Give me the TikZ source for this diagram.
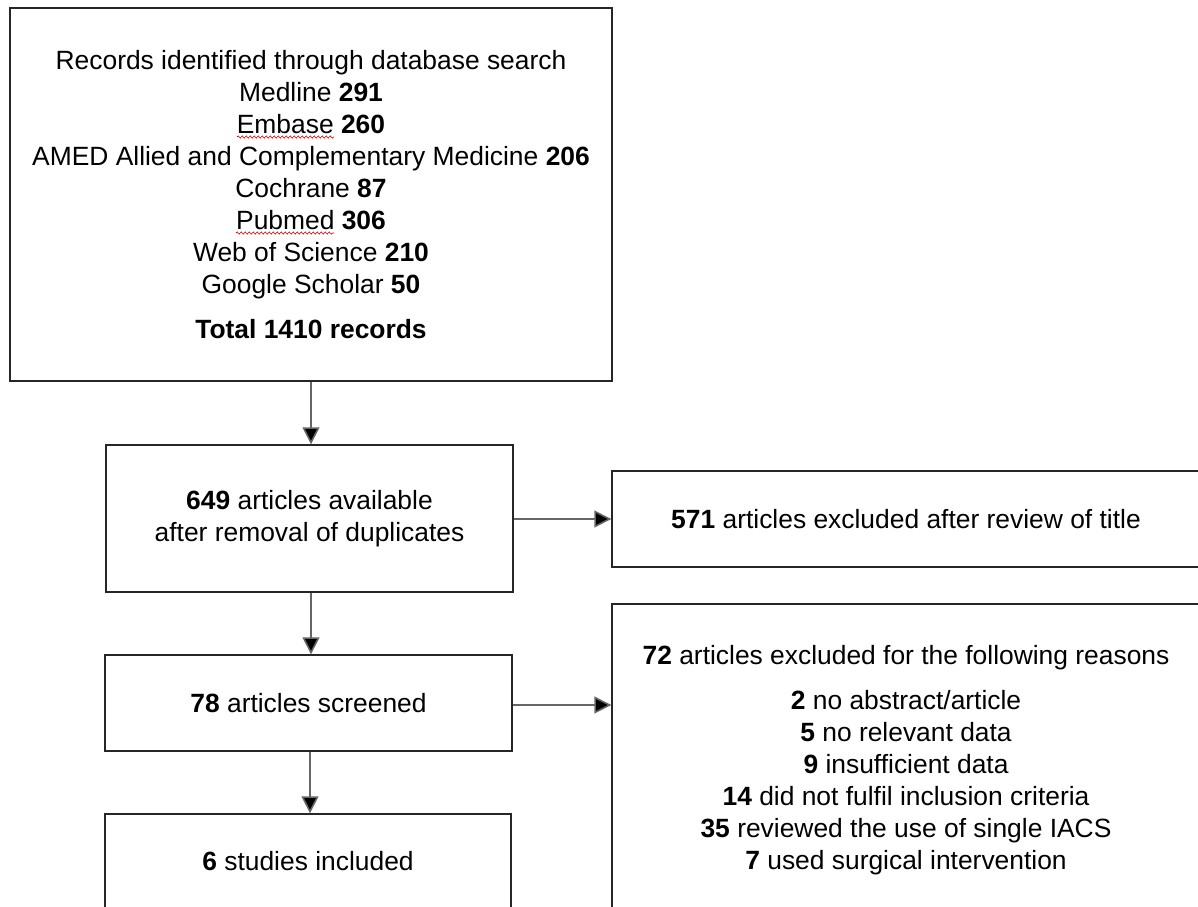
\documentclass[tikz,border=0pt]{standalone}
\usepackage{fontspec}
\setmainfont{Liberation Sans}
\usetikzlibrary{arrows.meta,decorations.pathmorphing}
\begin{document}
\begin{tikzpicture}[x=1pt,y=-1pt,
  box/.style={draw=black!85, line width=1.4pt, inner sep=0pt, align=center,
    font=\fontsize{26.4}{32}\selectfont},
  arr/.style={draw=black!60, line width=1.6pt,
    -{Triangle[length=17pt,width=17pt,fill=black]}},
  squiggle/.style={draw=red!80!black, line width=0.6pt, decorate,
    decoration={snake, amplitude=1.1pt, segment length=4pt}}
]
\useasboundingbox (0,0) rectangle (1198,906);
\clip (0,0) rectangle (1198,906);
\fill[white] (0,0) rectangle (1198,906);

\node[box, minimum width=602pt, minimum height=373pt] (top) at (311,194.5)
  {Records identified through database search\\
   Medline \textbf{291}\\
   Embase \textbf{260}\\
   AMED Allied and Complementary Medicine \textbf{206}\\
   Cochrane \textbf{87}\\
   Pubmed \textbf{306}\\
   Web of Science \textbf{210}\\
   Google Scholar \textbf{50}\\[13pt]
   \textbf{Total 1410 records}};

\node[box, minimum width=407pt, minimum height=147pt] (dup) at (309.5,518.5)
  {\textbf{649} articles available\\ after removal of duplicates};

\node[box, minimum width=588pt, minimum height=96pt] (title) at (906,519)
  {\textbf{571} articles excluded after review of title};

\node[box, minimum width=407pt, minimum height=96pt] (screen) at (308.5,703)
  {\textbf{78} articles screened};

\node[box, minimum width=588pt, minimum height=312pt] (reasons) at (906,760)
  {\textbf{72} articles excluded for the following reasons\\[13pt]
   \textbf{2} no abstract/article\\
   \textbf{5} no relevant data\\
   \textbf{9} insufficient data\\
   \textbf{14} did not fulfil inclusion criteria\\
   \textbf{35} reviewed the use of single IACS\\
   \textbf{7} used surgical intervention};

\node[box, minimum width=406pt, minimum height=94pt] (incl) at (308,861)
  {\textbf{6} studies included};

\draw[arr] (top.south) -- (top.south |- dup.north);
\draw[arr] ([xshift=1.5pt]dup.south) -- ([xshift=1.5pt]dup.south |- screen.north);
\draw[arr] ([xshift=1.5pt]screen.south) -- ([xshift=1.5pt]screen.south |- incl.north);
\draw[arr] ([yshift=-0.5pt]dup.east) -- ([yshift=-0.5pt]dup.east -| title.west);
\draw[arr] ([yshift=-2pt]screen.east) -- ([yshift=-2pt]screen.east -| reasons.west);

\draw[squiggle] (237,137) -- (334,137);
\draw[squiggle] (236,233) -- (334,233);
\end{tikzpicture}
\end{document}
